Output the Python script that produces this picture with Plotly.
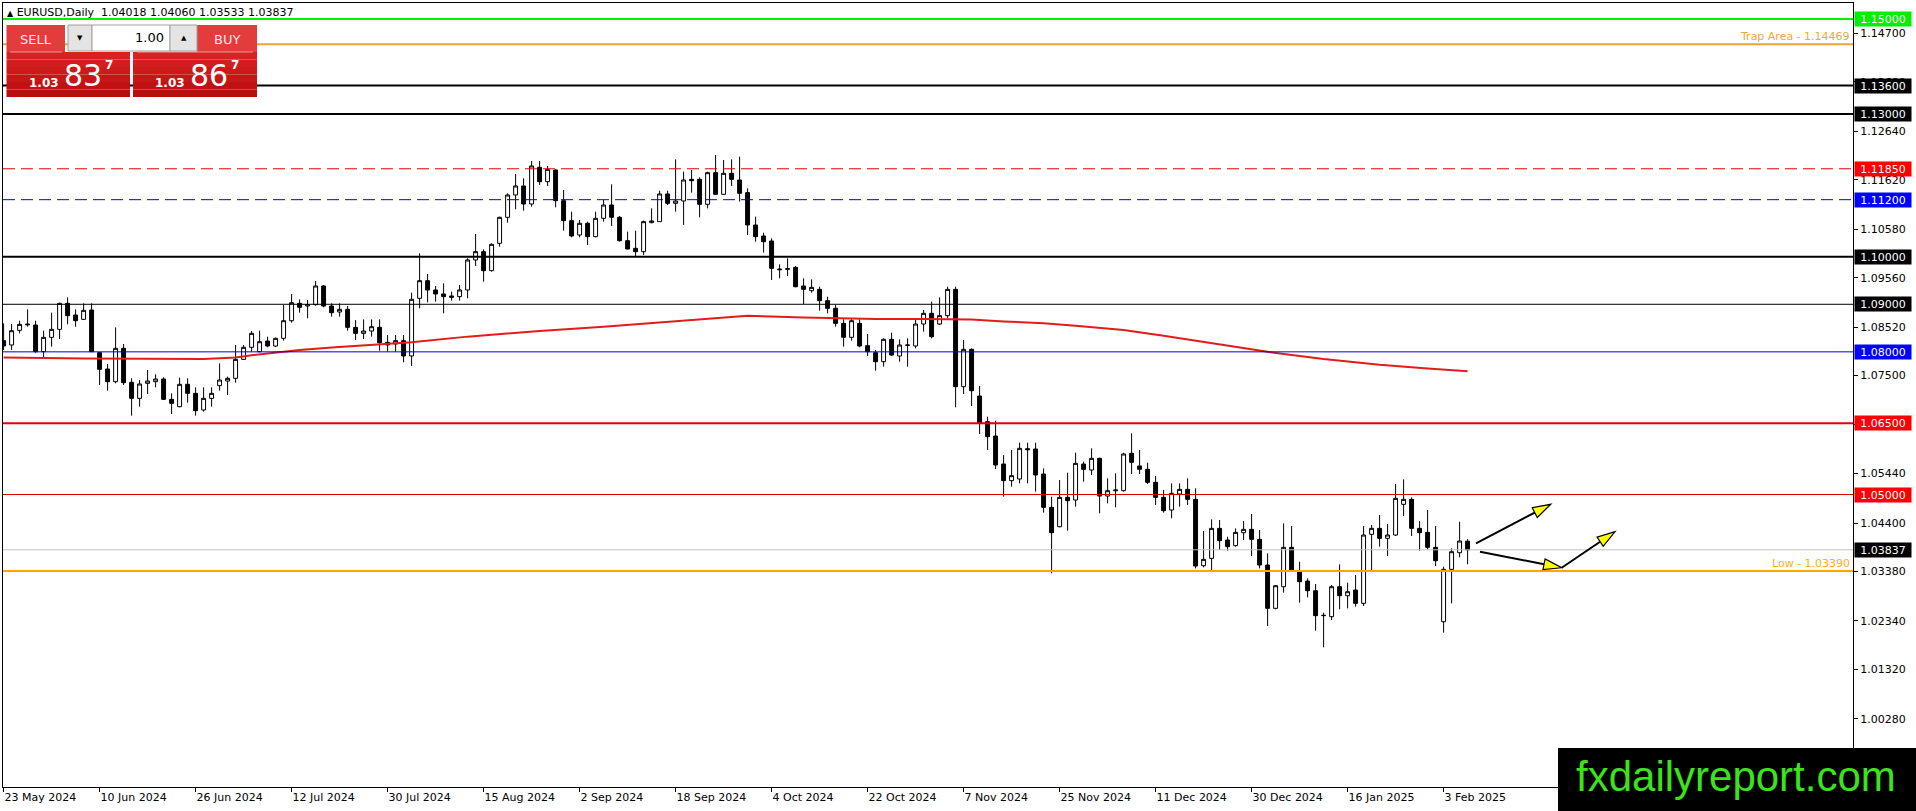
import pandas as pd
import plotly.graph_objects as go

# EURUSD daily bars 23 May 2024 - 6 Feb 2025 (broker has no bar on 25 Dec / 1 Jan)
dates = pd.bdate_range("2024-05-23", "2025-02-06")
dates = dates[~dates.isin(pd.to_datetime(["2024-12-25", "2025-01-01"]))]

opens = [
    1.08235, 1.08144, 1.08452, 1.08585, 1.08564, 1.08004, 1.08305, 1.08473, 1.09020, 1.08775,
    1.08683, 1.08880, 1.07983, 1.07639, 1.07373, 1.08074, 1.07359, 1.07022, 1.07338, 1.07373,
    1.07429, 1.07001, 1.06847, 1.07317, 1.07127, 1.06777, 1.07022, 1.07289, 1.07387, 1.07443,
    1.07842, 1.08095, 1.08004, 1.08228, 1.08123, 1.08284, 1.08655, 1.09020, 1.08964, 1.08992,
    1.09385, 1.08964, 1.08838, 1.08894, 1.08515, 1.08389, 1.08438, 1.08516, 1.08200, 1.08165,
    1.08235, 1.07913, 1.09126, 1.09497, 1.09301, 1.09217, 1.09175, 1.09161, 1.09301, 1.09932,
    1.10107, 1.09707, 1.10282, 1.10829, 1.11299, 1.11488, 1.11109, 1.11880, 1.11579, 1.11824,
    1.11179, 1.10759, 1.10457, 1.10703, 1.10422, 1.10808, 1.11088, 1.10829, 1.10338, 1.10177,
    1.10107, 1.10717, 1.10738, 1.11320, 1.11123, 1.11172, 1.11628, 1.11628, 1.11102, 1.11768,
    1.11313, 1.11754, 1.11614, 1.11348, 1.10667, 1.10436, 1.10331, 1.09742, 1.09735, 1.09777,
    1.09384, 1.09286, 1.09314, 1.09076, 1.08915, 1.08599, 1.08305, 1.08599, 1.08130, 1.07983,
    1.07793, 1.08263, 1.07912, 1.08137, 1.08123, 1.08585, 1.08810, 1.08585, 1.08761, 1.09314,
    1.07268, 1.08053, 1.07071, 1.06531, 1.06230, 1.05641, 1.05291, 1.05326, 1.05964, 1.05957,
    1.05431, 1.04730, 1.04323, 1.04940, 1.04884, 1.05641, 1.05515, 1.05760, 1.04968, 1.05080,
    1.05081, 1.05866, 1.05600, 1.05530, 1.05256, 1.04940, 1.04674, 1.05010, 1.05108, 1.04898,
    1.03503, 1.03657, 1.04288, 1.04043, 1.03924, 1.04197, 1.04267, 1.04057, 1.03517, 1.02606,
    1.03061, 1.03889, 1.03377, 1.03181, 1.02977, 1.02452, 1.02431, 1.03061, 1.02872, 1.02991,
    1.02711, 1.04162, 1.04288, 1.04078, 1.04148, 1.04793, 1.04898, 1.04288, 1.04204, 1.03889,
    1.02325, 1.03426, 1.03776, 1.04018,
]
highs = [
    1.08599, 1.08585, 1.08655, 1.08894, 1.08655, 1.08445, 1.08824, 1.09034, 1.09146, 1.08894,
    1.09020, 1.09020, 1.07990, 1.07744, 1.08515, 1.08165, 1.07443, 1.07408, 1.07618, 1.07527,
    1.07464, 1.07127, 1.07457, 1.07443, 1.07254, 1.07254, 1.07254, 1.07758, 1.07478, 1.08144,
    1.08144, 1.08438, 1.08445, 1.08319, 1.08300, 1.08985, 1.09216, 1.09104, 1.09090, 1.09490,
    1.09406, 1.09020, 1.09020, 1.08964, 1.08669, 1.08683, 1.08683, 1.08684, 1.08354, 1.08354,
    1.08354, 1.09245, 1.10072, 1.09637, 1.09385, 1.09441, 1.09266, 1.09406, 1.09967, 1.10478,
    1.10156, 1.10282, 1.10843, 1.11334, 1.11740, 1.11649, 1.12014, 1.12014, 1.11908, 1.11838,
    1.11404, 1.10948, 1.10773, 1.10738, 1.10948, 1.11193, 1.11523, 1.10857, 1.10528, 1.10549,
    1.10759, 1.11018, 1.11390, 1.11390, 1.12049, 1.11789, 1.11824, 1.11670, 1.11789, 1.12140,
    1.12035, 1.12049, 1.12105, 1.11439, 1.10843, 1.10506, 1.10387, 1.09840, 1.09966, 1.09805,
    1.09546, 1.09525, 1.09370, 1.09160, 1.08985, 1.08684, 1.08684, 1.08684, 1.08375, 1.08039,
    1.08284, 1.08403, 1.08263, 1.08284, 1.08669, 1.08880, 1.09055, 1.09146, 1.09370, 1.09370,
    1.08249, 1.08074, 1.07282, 1.06637, 1.06552, 1.05830, 1.05936, 1.06090, 1.06090, 1.06090,
    1.05550, 1.04954, 1.05305, 1.05459, 1.05880, 1.05690, 1.05971, 1.05774, 1.05340, 1.05445,
    1.05880, 1.06287, 1.05936, 1.05670, 1.05389, 1.05094, 1.05235, 1.05235, 1.05340, 1.05129,
    1.04232, 1.04478, 1.04464, 1.04113, 1.04288, 1.04442, 1.04590, 1.04253, 1.03762, 1.03096,
    1.04393, 1.04337, 1.03587, 1.03237, 1.03118, 1.02515, 1.03096, 1.03531, 1.03146, 1.03307,
    1.04337, 1.04358, 1.04569, 1.04379, 1.05221, 1.05319, 1.04940, 1.04442, 1.04674, 1.04337,
    1.03482, 1.03867, 1.04428, 1.04060,
]
lows = [
    1.08039, 1.08039, 1.08389, 1.08529, 1.07983, 1.07863, 1.08109, 1.08270, 1.08578, 1.08529,
    1.08669, 1.07997, 1.07303, 1.07183, 1.07338, 1.07303, 1.06658, 1.06847, 1.07113, 1.07254,
    1.06987, 1.06693, 1.06833, 1.06931, 1.06658, 1.06742, 1.06847, 1.07183, 1.07092, 1.07352,
    1.07828, 1.08004, 1.07990, 1.08095, 1.08100, 1.08235, 1.08613, 1.08824, 1.08705, 1.08971,
    1.08936, 1.08740, 1.08740, 1.08445, 1.08249, 1.08270, 1.08319, 1.08025, 1.08004, 1.08004,
    1.07780, 1.07703, 1.08915, 1.09041, 1.09056, 1.08810, 1.09077, 1.09077, 1.09126, 1.09806,
    1.09476, 1.09686, 1.10212, 1.10717, 1.10997, 1.10969, 1.11053, 1.11509, 1.11488, 1.11039,
    1.10549, 1.10408, 1.10408, 1.10247, 1.10408, 1.10738, 1.10647, 1.10317, 1.10156, 1.10002,
    1.10037, 1.10703, 1.10738, 1.11088, 1.10948, 1.10668, 1.11348, 1.10829, 1.11018, 1.11299,
    1.11299, 1.11488, 1.11158, 1.10457, 1.10317, 1.10086, 1.09511, 1.09546, 1.09595, 1.09356,
    1.09006, 1.09244, 1.08866, 1.08810, 1.08529, 1.08109, 1.08235, 1.08095, 1.07912, 1.07604,
    1.07688, 1.07912, 1.07793, 1.07688, 1.08074, 1.08424, 1.08284, 1.08564, 1.08705, 1.06833,
    1.07113, 1.06861, 1.06272, 1.05936, 1.05536, 1.04954, 1.05164, 1.05235, 1.05235, 1.05059,
    1.04618, 1.03342, 1.04309, 1.04239, 1.04744, 1.05270, 1.05410, 1.04604, 1.04814, 1.04730,
    1.05060, 1.05431, 1.05431, 1.05221, 1.04779, 1.04618, 1.04499, 1.04744, 1.04779, 1.03447,
    1.03468, 1.03412, 1.03833, 1.03819, 1.03903, 1.04043, 1.03706, 1.03447, 1.02234, 1.02585,
    1.02935, 1.03398, 1.02725, 1.02837, 1.02136, 1.01786, 1.02361, 1.02585, 1.02606, 1.02641,
    1.02655, 1.03412, 1.03903, 1.03706, 1.04127, 1.04548, 1.04127, 1.03819, 1.03847, 1.03496,
    1.02094, 1.02711, 1.03678, 1.03533,
]
closes = [
    1.08123, 1.08445, 1.08578, 1.08571, 1.08004, 1.08305, 1.08473, 1.09020, 1.08761, 1.08655,
    1.08873, 1.08004, 1.07632, 1.07373, 1.08074, 1.07352, 1.07022, 1.07324, 1.07387, 1.07429,
    1.07001, 1.06917, 1.07317, 1.07127, 1.06763, 1.07022, 1.07127, 1.07408, 1.07443, 1.07842,
    1.08095, 1.08389, 1.08214, 1.08123, 1.08284, 1.08655, 1.09034, 1.08936, 1.08992, 1.09385,
    1.08964, 1.08824, 1.08894, 1.08515, 1.08389, 1.08438, 1.08529, 1.08193, 1.08144, 1.08235,
    1.07913, 1.09105, 1.09497, 1.09301, 1.09217, 1.09161, 1.09147, 1.09301, 1.09932, 1.10107,
    1.09707, 1.10261, 1.10829, 1.11299, 1.11488, 1.11109, 1.11909, 1.11579, 1.11838, 1.11179,
    1.10759, 1.10436, 1.10703, 1.10422, 1.10808, 1.11088, 1.10829, 1.10338, 1.10163, 1.10107,
    1.10738, 1.10752, 1.11320, 1.11123, 1.11172, 1.11614, 1.11600, 1.11102, 1.11768, 1.11313,
    1.11754, 1.11628, 1.11334, 1.10668, 1.10422, 1.10317, 1.09756, 1.09728, 1.09749, 1.09370,
    1.09314, 1.09356, 1.09076, 1.08915, 1.08599, 1.08305, 1.08655, 1.08123, 1.08004, 1.07793,
    1.08263, 1.07933, 1.08144, 1.08144, 1.08585, 1.08810, 1.08319, 1.08761, 1.09314, 1.07268,
    1.08053, 1.07183, 1.06510, 1.06216, 1.05620, 1.05291, 1.05396, 1.05971, 1.05943, 1.05410,
    1.04730, 1.04197, 1.04940, 1.04870, 1.05655, 1.05529, 1.05760, 1.04968, 1.05080, 1.05094,
    1.05852, 1.05677, 1.05530, 1.05256, 1.04940, 1.04660, 1.05024, 1.05108, 1.04898, 1.03496,
    1.03636, 1.04288, 1.04029, 1.03903, 1.04204, 1.04267, 1.04057, 1.03517, 1.02606, 1.03082,
    1.03889, 1.03412, 1.03167, 1.02977, 1.02452, 1.02459, 1.03061, 1.02872, 1.02956, 1.02711,
    1.04148, 1.04288, 1.04078, 1.04148, 1.04919, 1.04898, 1.04288, 1.04197, 1.03889, 1.03608,
    1.03426, 1.03797, 1.04022, 1.03837,
]

# slow moving average (red), read at some bars
ma_bars = [0, 10, 25, 29, 31, 34, 37, 41, 47, 51, 58, 67, 75, 84, 93, 100, 109, 115,
           121, 125, 130, 134, 140, 145, 152, 158, 165, 172, 178, 183]
ma_vals = [1.0788, 1.0786, 1.0785, 1.0788, 1.0793, 1.0798, 1.0804, 1.0809, 1.0816, 1.0820,
           1.0832, 1.0844, 1.0853, 1.0865, 1.0876, 1.0872, 1.0869, 1.0869, 1.0868, 1.0864,
           1.0860, 1.0855, 1.0846, 1.0834, 1.0815, 1.0800, 1.0785, 1.0773, 1.0765, 1.0759]

# horizontal levels drawn on the chart
levels = [1.15000, 1.14469, 1.13600, 1.13000, 1.11850, 1.11200, 1.10000,
          1.09000, 1.08000, 1.06500, 1.05000, 1.03837, 1.03390]
trap_level = 1.14469
low_level = 1.03390

price_ticks = [1.00280, 1.01320, 1.02340, 1.03380, 1.04400, 1.05440, 1.06480, 1.07500,
               1.08520, 1.09560, 1.10580, 1.11620, 1.12640, 1.13680, 1.14700]

# hand drawn arrows: (bar, price) start -> tip
arrows = [((184.05, 1.03974), (193.39, 1.04794)),
          ((184.55, 1.03797), (194.76, 1.03460)),
          ((194.76, 1.03460), (201.43, 1.04218))]

bid = closes[-1]
ask = 1.03867

# ---------------------------------------------------------------------------
# styles for the levels: colour, width, dash, label box colour (None = no box)
level_style = {
    1.15000: ("#00F000", 2, "solid", "#00F000"),
    1.14469: ("#E8A43A", 2, "solid", None),
    1.13600: ("black", 2, "solid", "black"),
    1.13000: ("black", 2, "solid", "black"),
    1.11850: ("#E00000", 1, "12px,6px", "#FF0000"),
    1.11200: ("#0000D0", 1, "12px,6px", "#0000FF"),
    1.10000: ("black", 2, "solid", "black"),
    1.09000: ("black", 1, "solid", "black"),
    1.08000: ("#0000C0", 1, "solid", "#0000FF"),
    1.06500: ("#E00000", 2, "solid", "#FF0000"),
    1.05000: ("#D00000", 1, "solid", "#FF0000"),
    1.03837: ("#C0C0C0", 1, "solid", "black"),
    1.03390: ("#FFA500", 2, "solid", None),
}

FONT = "DejaVu Sans"
W, H = 1916, 811
L, R, T, B = 3, 1853, 3, 787          # chart box in page pixels
XR = [-0.075, (R - L) / 8 - 0.075]    # 8 px per bar
YR = [0.98849, 1.15336]


def px(x):
    return (x - L) / (R - L)


def py(y):
    return (B - y) / (B - T)


def to_px(i, p):
    return (L + (i - XR[0]) / (XR[1] - XR[0]) * (R - L),
            T + (YR[1] - p) / (YR[1] - YR[0]) * (B - T))


def to_data(X, Y):
    return (XR[0] + (X - L) / (R - L) * (XR[1] - XR[0]),
            YR[1] - (Y - T) / (B - T) * (YR[1] - YR[0]))


bars = list(range(len(dates)))
tick_bars = bars[::12]
tick_text = [f"{dates[i].day} {dates[i].strftime('%b %Y')}" for i in tick_bars]

fig = go.Figure()

fig.add_trace(go.Candlestick(
    x=bars, open=opens, high=highs, low=lows, close=closes,
    increasing=dict(line=dict(color="black", width=1), fillcolor="white"),
    decreasing=dict(line=dict(color="black", width=1), fillcolor="black"),
    whiskerwidth=0,
))

fig.add_trace(go.Scatter(x=ma_bars, y=ma_vals, mode="lines",
                         line=dict(color="#E41B1B", width=2)))

shapes = []
annotations = []

for v in levels:
    color, width, dash, box = level_style[v]
    shapes.append(dict(type="line", xref="paper", x0=0, x1=1, yref="y", y0=v, y1=v,
                       line=dict(color=color, width=width, dash=dash), layer="above"))
    if box:
        annotations.append(dict(xref="paper", x=1, xanchor="left", xshift=1,
                                yref="y", y=v, yanchor="middle", text=f"{v:.5f}",
                                showarrow=False, bgcolor=box, width=54, height=12,
                                borderpad=1, align="center",
                                font=dict(family=FONT, size=11, color="white")))

annotations.append(dict(xref="paper", x=1, xanchor="right", xshift=-2, yref="y",
                        y=trap_level, yanchor="bottom", showarrow=False,
                        text=f"Trap Area - {trap_level:.5f}", borderpad=0,
                        font=dict(family=FONT, size=11, color="#EDA940")))
annotations.append(dict(xref="paper", x=1, xanchor="right", xshift=-2, yref="y",
                        y=low_level, yanchor="bottom", showarrow=False,
                        text=f"Low - {low_level:.5f}", borderpad=0,
                        font=dict(family=FONT, size=11, color="#FFAA22")))

# arrows with yellow heads
for s, t in arrows:
    Sx, Sy = to_px(*s)
    Tx, Ty = to_px(*t)
    dx, dy = Tx - Sx, Ty - Sy
    n = (dx * dx + dy * dy) ** 0.5
    dx, dy = dx / n, dy / n
    bx, by = Tx - 18 * dx, Ty - 18 * dy
    p1 = to_data(bx - 5.5 * dy, by + 5.5 * dx)
    p2 = to_data(bx + 5.5 * dy, by - 5.5 * dx)
    b = to_data(bx, by)
    shapes.append(dict(type="line", xref="x", yref="y", x0=s[0], y0=s[1], x1=b[0], y1=b[1],
                       line=dict(color="black", width=2), layer="above"))
    shapes.append(dict(type="path", xref="x", yref="y",
                       path=f"M {t[0]},{t[1]} L {p1[0]},{p1[1]} L {p2[0]},{p2[1]} Z",
                       fillcolor="#FFFF00", line=dict(color="black", width=1.2),
                       layer="above"))


def rect(x0, y0, x1, y1, fill, line=None):
    shapes.append(dict(type="rect", xref="paper", yref="paper",
                       x0=px(x0), x1=px(x1), y0=py(y1), y1=py(y0), fillcolor=fill,
                       line=dict(width=1 if line else 0, color=line or fill),
                       layer="above"))


def text(x, y, s, size, color, anchor="left", weight="normal", family=FONT):
    annotations.append(dict(xref="paper", yref="paper", x=px(x), y=py(y), xanchor=anchor,
                            yanchor="middle", text=s, showarrow=False,
                            font=dict(family=family, size=size, color=color,
                                      weight=weight)))


# one-click trading panel
rect(6.5, 25, 65, 52, "#E23C3C")
rect(197, 25, 257, 52, "#E23C3C")
for k in range(6):
    c = (216 - 6 * k, 34 - 4 * k, 34 - 4 * k)
    col = f"rgb{c}"
    rect(6.5, 52 + 7.5 * k, 130, 52 + 7.5 * (k + 1), col)
    rect(133, 52 + 7.5 * k, 257, 52 + 7.5 * (k + 1), col)
rect(6.5, 24.5, 130, 52, "rgba(0,0,0,0)", None)
shapes.append(dict(type="line", xref="paper", yref="paper", x0=px(10), x1=px(62),
                   y0=py(52), y1=py(52), line=dict(color="#F29A9A", width=1),
                   layer="above"))
shapes.append(dict(type="line", xref="paper", yref="paper", x0=px(137), x1=px(253),
                   y0=py(52), y1=py(52), line=dict(color="#F29A9A", width=1),
                   layer="above"))
rect(68, 25, 92, 51, "#E4E4E4", "#A0A0A0")
rect(92, 25, 170, 51, "white", "#A0A0A0")
rect(170, 25, 197, 51, "#E4E4E4", "#A0A0A0")

text(35.5, 39.5, "SELL", 13, "#FFE6E6", anchor="center")
text(227, 39.5, "BUY", 13, "#FFE6E6", anchor="center")
text(80, 38, "▼", 7, "black", anchor="center")
text(183.5, 38, "▲", 7, "black", anchor="center")
text(166, 38, "1.00", 13, "black", anchor="right")

for price, x0 in ((bid, 27), (ask, 153)):
    s = f"{price:.5f}"
    text(x0, 83, s[:4], 12, "white", weight="bold")
    text(x0 + 35, 75, s[4:6], 30, "white")
    text(x0 + 76, 65, s[6], 12, "white", weight="bold")

# chart header
text(5, 13, f"<span style='font-size:8px'>▲</span> EURUSD,Daily  {opens[-1]:.5f} "
     f"{highs[-1]:.5f} {lows[-1]:.5f} {closes[-1]:.5f}", 11, "black")

# watermark
rect(1558, 748, 1916, 811, "black")
text(1736, 776, "fxdailyreport.com", 42, "#3BE31B", anchor="center",
     family="Liberation Sans")

fig.update_layout(
    width=W, height=H,
    margin=dict(l=L, r=W - R, t=T, b=H - B),
    paper_bgcolor="white", plot_bgcolor="white",
    showlegend=False, hovermode=False,
    font=dict(family=FONT, size=11, color="black"),
    shapes=shapes, annotations=annotations,
    xaxis=dict(range=XR, tickmode="array", tickvals=tick_bars, ticktext=tick_text,
               ticks="outside", ticklen=4, tickcolor="black", ticklabelposition="outside right",
               showgrid=False, zeroline=False, showline=True, linecolor="black",
               linewidth=1, mirror=True, rangeslider=dict(visible=False), fixedrange=True),
    yaxis=dict(range=YR, side="right", tickmode="array", tickvals=price_ticks,
               tickformat=".5f", ticks="outside", ticklen=4, tickcolor="black",
               showgrid=False, zeroline=False, showline=True, linecolor="black",
               linewidth=1, mirror=True, fixedrange=True),
)

fig.write_html("out.html", config={"displayModeBar": False},
               post_script="document.body.style.margin='0';"
                           "document.body.style.overflow='hidden';")
